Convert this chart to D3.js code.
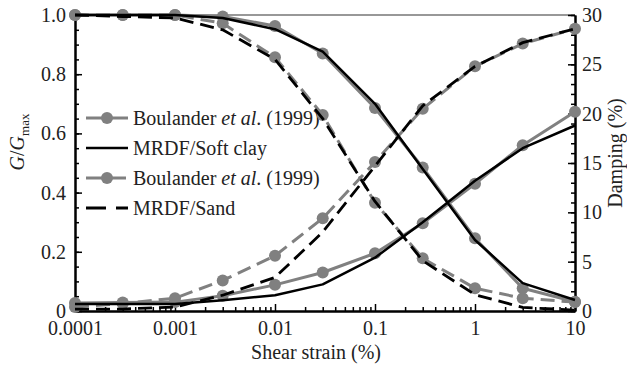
<!DOCTYPE html>
<html><head><meta charset="utf-8">
<script src="https://cdn.jsdelivr.net/npm/d3@7"></script>
</head><body style="margin:0"><svg id="c" width="627" height="369" font-family="Liberation Serif"></svg>
<script>
const strain = [0.0001,0.0003,0.001,0.003,0.01,0.03,0.1,0.3,1,3,10];
const gBoulClay = [1.0,1.0,1.0,0.995,0.963,0.87,0.686,0.485,0.246,0.077,0.031];
const gMrdfClay = [1.0,1.0,1.0,0.99,0.952,0.876,0.70,0.48,0.24,0.094,0.037];
const gBoulSand = [1.0,1.0,1.0,0.972,0.857,0.662,0.366,0.178,0.077,0.043,0.03];
const gMrdfSand = [1.0,0.995,0.99,0.95,0.85,0.65,0.37,0.17,0.055,0.012,0.003];
const dBoulClay = [0.8,0.85,0.9,1.55,2.65,3.9,5.85,8.9,12.9,16.8,20.2];
const dMrdfClay = [0.7,0.7,0.7,1.1,1.6,2.7,5.4,9.0,13.2,16.5,18.8];
const dBoulSand = [0.4,0.75,1.3,3.1,5.6,9.4,15.1,20.5,24.8,27.1,28.6];
const dMrdfSand = [0.2,0.2,0.4,1.6,3.4,8.0,14.7,20.8,24.8,27.2,28.6];
const xTicks = [0.0001,0.001,0.01,0.1,1,10];
const xTickLabels = ["0.0001","0.001","0.01","0.1","1","10"];
const gTicks = [0,0.2,0.4,0.6,0.8,1.0];
const dTicks = [0,5,10,15,20,25,30];
const legendLabels = ["Boulander|et al|. (1999)","MRDF/Soft clay","Boulander|et al|. (1999)","MRDF/Sand"];

const FONT = "'Liberation Serif'";
const GRAY = "#808080";
const svg = d3.select("#c");
const x = d3.scaleLog().domain([1e-4,10]).range([75,575]);
const yG = d3.scaleLinear().domain([0,1]).range([311,15]);
const yD = d3.scaleLinear().domain([0,30]).range([311,15]);

function txt(sel){ return sel.attr("font-family","Liberation Serif").style("font-family",FONT).style("font-size","20px").attr("fill","#222"); }

svg.append("line").attr("x1",75).attr("x2",575).attr("y1",15).attr("y2",15)
  .attr("stroke","#333").attr("stroke-width",1.2);

const xMinor = [];
for (let e=-4;e<1;e++) for (let m=2;m<=9;m++) xMinor.push(m*Math.pow(10,e));
const gMinor = d3.range(0,1.0001,0.05);
const dMinor = d3.range(0,30.001,1);

function styleAxis(g){
  g.attr("font-family","Liberation Serif").attr("font-size",20);
  g.selectAll("path").attr("stroke","#000").attr("stroke-width",2);
  g.selectAll("line").attr("stroke","#000").attr("stroke-width",1.5);
  txt(g.selectAll("text"));
}
svg.append("g").attr("transform","translate(0,311)")
  .call(d3.axisBottom(x).tickValues(xMinor).tickFormat("").tickSize(-4).tickSizeOuter(0)).call(styleAxis);
svg.append("g").attr("transform","translate(0,311)")
  .call(d3.axisBottom(x).tickValues(xTicks).tickFormat((d,i)=>xTickLabels[i]).tickSize(-7).tickSizeOuter(0).tickPadding(10)).call(styleAxis);
svg.append("g").attr("transform","translate(75,0)")
  .call(d3.axisLeft(yG).tickValues(gMinor).tickFormat("").tickSize(-4).tickSizeOuter(0)).call(styleAxis);
svg.append("g").attr("transform","translate(75,0)")
  .call(d3.axisLeft(yG).tickValues(gTicks).tickFormat(d=>d===0?"0":d3.format(".1f")(d)).tickSize(-7).tickSizeOuter(0).tickPadding(9)).call(styleAxis);
svg.append("g").attr("transform","translate(575,0)")
  .call(d3.axisRight(yD).tickValues(dMinor).tickFormat("").tickSize(-4).tickSizeOuter(0)).call(styleAxis);
svg.append("g").attr("transform","translate(575,0)")
  .call(d3.axisRight(yD).tickValues(dTicks).tickFormat(d3.format("d")).tickSize(-7).tickSizeOuter(0).tickPadding(7)).call(styleAxis);

txt(svg.append("text").attr("x",316).attr("y",359).attr("text-anchor","middle")).text("Shear strain (%)");
const yl = txt(svg.append("text").attr("transform","translate(24,142) rotate(-90)").attr("text-anchor","middle"));
yl.append("tspan").attr("font-style","italic").text("G");
yl.append("tspan").text("/");
yl.append("tspan").attr("font-style","italic").text("G");
yl.append("tspan").style("font-size","13px").attr("dy",5).text("max");
txt(svg.append("text").attr("transform","translate(622,153) rotate(-90)").attr("text-anchor","middle")).text("Damping (%)");

const legY = [118,148,178,208];
const legStyle = [
  {c:GRAY,w:3,dash:null,m:true},{c:"#000",w:2.6,dash:null,m:false},
  {c:GRAY,w:3,dash:"16,8",m:true},{c:"#000",w:2.8,dash:"20,10",m:false}];
legendLabels.forEach((lab,i)=>{
  const s = legStyle[i];
  const ln = svg.append("line").attr("x1",86).attr("x2",128).attr("y1",legY[i]).attr("y2",legY[i])
    .attr("stroke",s.c).attr("stroke-width",s.w);
  if (s.dash) ln.attr("stroke-dasharray",s.dash);
  if (s.m) svg.append("circle").attr("cx",107).attr("cy",legY[i]).attr("r",6).attr("fill",GRAY);
  const t = txt(svg.append("text").attr("x",133).attr("y",legY[i]+7));
  const parts = lab.split("|");
  parts.forEach((p,j)=>{ const ts=t.append("tspan").text(j===0&&parts.length>1?p+" ":p); if(j===1) ts.attr("font-style","italic"); });
});

function draw(vals, yScale, color, width, dash, markers){
  const data = strain.map((s,i)=>[s,vals[i]]);
  const line = d3.line().x(d=>x(d[0])).y(d=>yScale(d[1]));
  const p = svg.append("path").attr("d",line(data)).attr("fill","none")
    .attr("stroke",color).attr("stroke-width",width).attr("stroke-linejoin","round");
  if (dash) p.attr("stroke-dasharray",dash);
  if (markers) svg.append("g").selectAll("circle").data(data).join("circle")
    .attr("cx",d=>x(d[0])).attr("cy",d=>yScale(d[1])).attr("r",6).attr("fill",GRAY);
}
draw(gBoulClay,yG,GRAY,3,null,true);
draw(gBoulSand,yG,GRAY,3,"14,7",true);
draw(dBoulClay,yD,GRAY,3,null,true);
draw(dBoulSand,yD,GRAY,3,"14,7",true);
draw(gMrdfClay,yG,"#000",2.5,null,false);
draw(gMrdfSand,yG,"#000",2.8,"14,7",false);
draw(dMrdfClay,yD,"#000",2.5,null,false);
draw(dMrdfSand,yD,"#000",2.8,"14,7",false);
</script></body></html>
